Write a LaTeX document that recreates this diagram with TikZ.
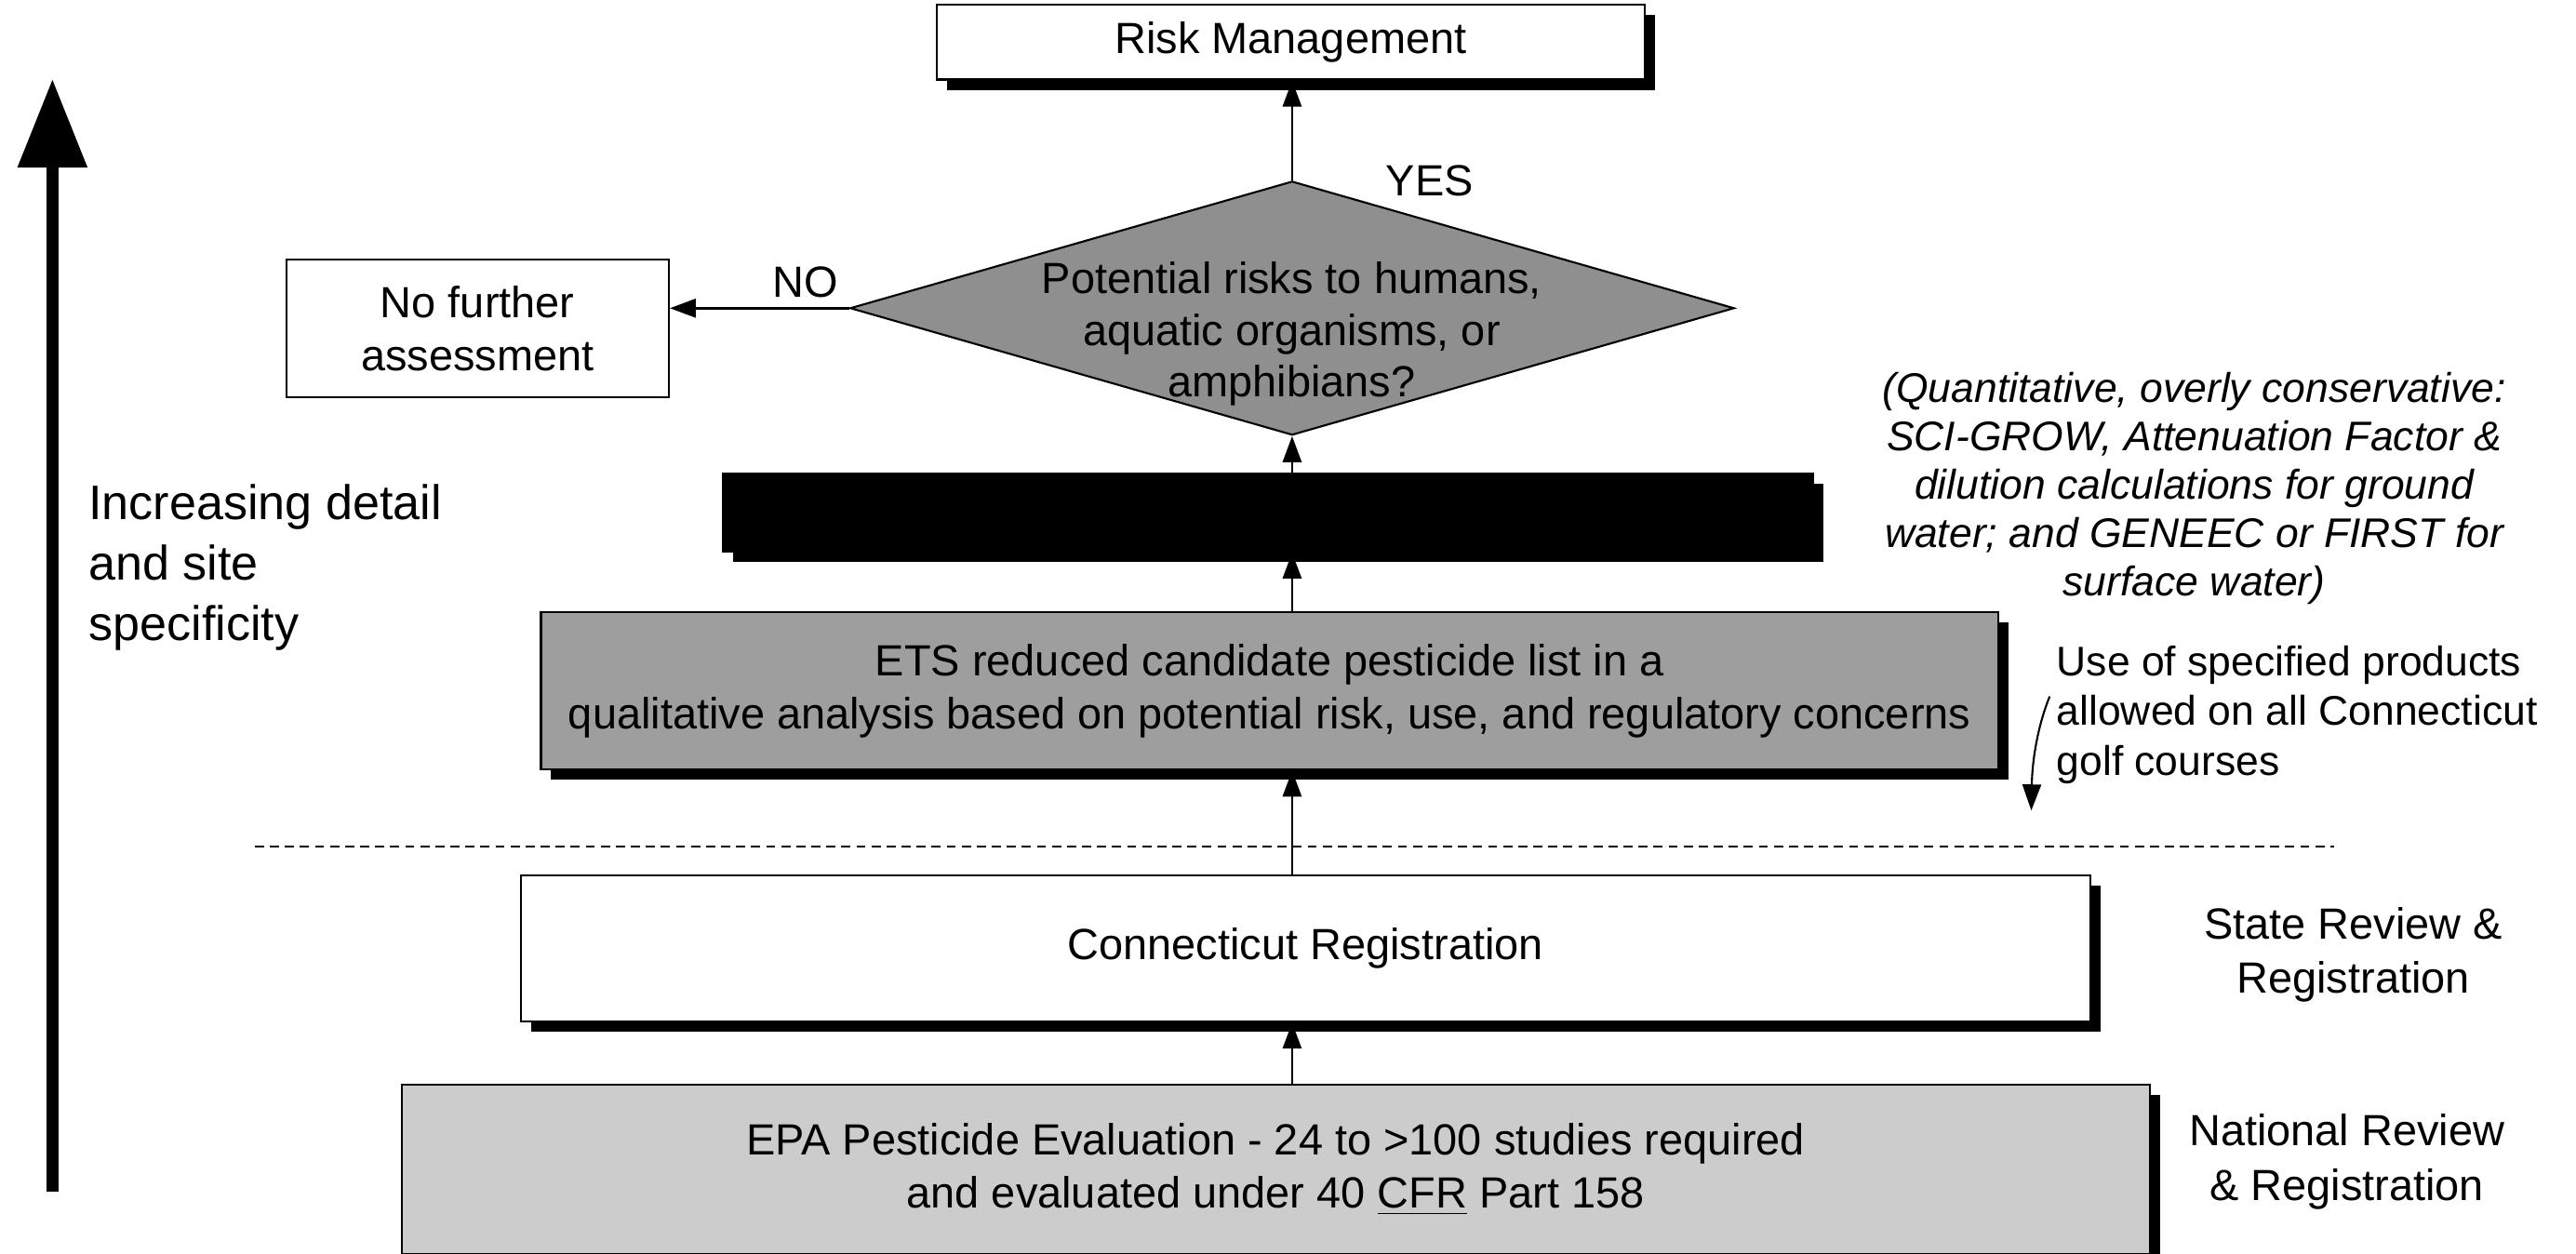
\documentclass[tikz,border=0pt]{standalone}
\usepackage{fontspec}
\setmainfont{Liberation Sans}
\usetikzlibrary{shapes.geometric,shadows,arrows.meta}
\definecolor{riskgray}{gray}{0.56}
\definecolor{etsgray}{gray}{0.62}
\definecolor{epagray}{gray}{0.8}

\begin{document}
\begin{tikzpicture}
        [scale=0.989, every node/.append style={transform shape},
        box/.style={rectangle, draw, line width=0.6pt, align=center, inner sep=0pt, font=\fontsize{13.5}{16.5}\selectfont},
        shadowed/.style={drop shadow={shadow xshift=0.11cm, shadow yshift=-0.11cm, fill=black, opacity=1}},
        decision/.style={diamond, draw, line width=0.6pt, fill=riskgray, inner sep=0pt, minimum width=9.61cm, minimum height=2.76cm},
        note/.style={align=center, font=\fontsize{13.5}{16.8}\selectfont},
        sidenote/.style={align=left, anchor=west, font=\fontsize{12.8}{15.4}\selectfont},
        flow/.style={line width=0.8pt, -{Triangle[width=0.2cm, length=0.28cm]}},
        detailaxis/.style={line width=3.5pt, -{Triangle[width=0.72cm, length=0.95cm]}},
        separator/.style={line width=0.6pt, dash pattern=on 2.8pt off 1.8pt}]

        \useasboundingbox (0,-0.15) rectangle (28.0,13.48);

        \node[box, shadowed, fill=white, minimum width=7.69cm, minimum height=0.81cm] (rm) at (14.03,13.02) {Risk Management};
        \node[decision] (dia) at (14.045,10.13) {};
        \node[note, font=\fontsize{13.5}{16}\selectfont] (diatext) at (14.04,9.85) {Potential risks to humans,\\aquatic organisms, or\\amphibians?};
        \node[box, fill=white, minimum width=4.16cm, minimum height=1.5cm] (nf) at (5.19,9.91) {No further\\assessment};
        \node[box, shadowed, fill=black, minimum width=11.85cm, minimum height=0.85cm] (blk) at (13.78,7.91) {};
        \node[box, shadowed, fill=etsgray, minimum width=15.84cm, minimum height=1.71cm] (ets) at (13.80,5.97) {ETS reduced candidate pesticide list in a\\qualitative analysis based on potential risk, use, and regulatory concerns};
        \node[box, shadowed, fill=white, minimum width=17.06cm, minimum height=1.59cm] (cr) at (14.19,3.17) {Connecticut Registration};
        \node[box, shadowed, fill=epagray, minimum width=19.0cm, minimum height=1.84cm] (epa) at (13.865,0.77) {EPA Pesticide Evaluation - 24 to >100 studies required\\and evaluated under 40 \underline{CFR} Part 158};

        % Labels for the decision
        \node[note] (yes) at (15.54,11.51) {YES};
        \node[note] (no) at (8.75,10.41) {NO};

        % Notes on the right
        \node[note, font=\itshape\fontsize{12.8}{15}\selectfont] (quant) at (23.85,8.17) {(Quantitative, overly conservative:\\SCI-GROW, Attenuation Factor \&\\dilution calculations for ground\\water; and GENEEC or FIRST for\\surface water)};
        \node[sidenote] (use) at (22.23,5.71) {Use of specified products\\allowed on all Connecticut\\golf courses};
        \node[note] (state) at (25.58,3.10) {State Review \&\\Registration};
        \node[note] (national) at (25.51,0.85) {National Review\\\& Registration};

        % Left axis
        \node[sidenote, font=\fontsize{15}{18.7}\selectfont] (detail) at (0.84,7.31) {Increasing detail\\and site\\specificity};
        \coordinate (axisbot) at (0.57,0.53);
        \coordinate (axistop) at (0.57,12.62);
        \draw[detailaxis] (axisbot) -- (axistop);

        % State / national separator
        \coordinate (sepL) at (2.77,4.28);
        \coordinate (sepR) at (25.37,4.28);
        \draw[separator] (sepL) -- (sepR);

        % flow arrows
        \draw[flow] (dia.north) -- (dia.north |- rm.south);
        \draw[flow] (dia.west) -- (dia.west -| nf.east);
        \draw[flow] (blk.north -| dia.south) -- (dia.south);
        \draw[flow] (ets.north -| dia.south) -- (blk.south -| dia.south);
        \draw[flow] (cr.north -| dia.south) -- (ets.south -| dia.south);
        \draw[flow] (epa.north -| dia.south) -- (cr.south -| dia.south);

        % curved arrow for the use note
        \coordinate (usetail) at (22.28,5.91);
        \coordinate (usetip) at (22.08,4.67);
        \draw[flow, line width=0.6pt] (usetail) .. controls (22.16,5.62) and (22.09,5.25) .. (usetip);

    \end{tikzpicture}
\end{document}
